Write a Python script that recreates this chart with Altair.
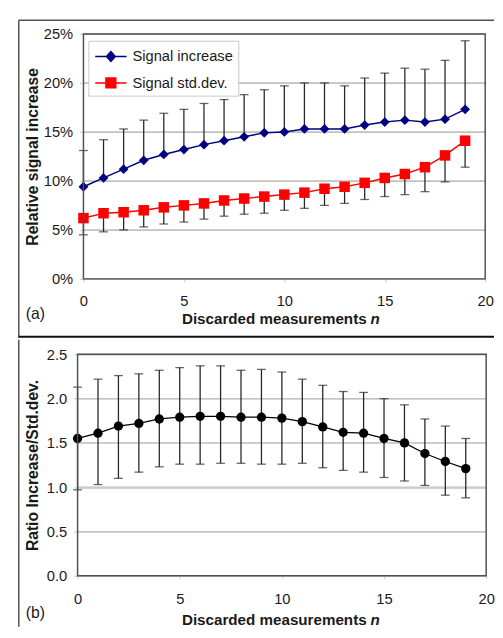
import altair as alt
import pandas as pd

# ---------------- data ----------------
n = list(range(20))
signal_increase = [9.4, 10.3, 11.2, 12.1, 12.7, 13.2, 13.7, 14.1, 14.5, 14.9,
                   15.0, 15.3, 15.3, 15.3, 15.7, 16.0, 16.2, 16.0, 16.3, 17.3]
increase_upper = [13.1, 14.2, 15.3, 16.2, 16.9, 17.3, 17.9, 18.3, 18.8, 19.3,
                  19.7, 20.0, 20.0, 19.7, 20.5, 21.0, 21.5, 21.4, 22.3, 24.3]
signal_std = [6.2, 6.7, 6.8, 7.0, 7.3, 7.5, 7.7, 8.0, 8.2, 8.4,
              8.6, 8.8, 9.2, 9.4, 9.8, 10.3, 10.7, 11.4, 12.6, 14.1]
std_lower = [4.5, 4.8, 5.0, 5.3, 5.6, 5.8, 6.1, 6.4, 6.6, 6.7,
             7.0, 7.2, 7.5, 7.7, 8.1, 8.4, 8.6, 8.9, 9.9, 11.4]

ratio = [1.55, 1.61, 1.69, 1.72, 1.77, 1.79, 1.80, 1.80, 1.79, 1.79,
         1.78, 1.74, 1.68, 1.62, 1.61, 1.55, 1.50, 1.38, 1.29, 1.21]
ratio_upper = [2.13, 2.22, 2.26, 2.28, 2.32, 2.35, 2.37, 2.37, 2.32, 2.33,
               2.30, 2.22, 2.15, 2.08, 2.07, 2.00, 1.93, 1.77, 1.69, 1.55]
ratio_lower = [0.97, 1.03, 1.10, 1.17, 1.23, 1.26, 1.26, 1.27, 1.27, 1.26,
               1.26, 1.27, 1.22, 1.19, 1.17, 1.11, 1.07, 1.02, 0.91, 0.88]

series_names = ["Signal increase", "Signal std.dev."]
series_colors = ["#000080", "#ff0000"]
x_ticks = [0, 5, 10, 15, 20]
top_ticks = [0, 0.05, 0.10, 0.15, 0.20, 0.25]
bottom_ticks = [0, 0.5, 1.0, 1.5, 2.0, 2.5]
x_title = "Discarded measurements"
x_title_var = "n"
top_ytitle = "Relative signal increase"
bottom_ytitle = "Ratio Increase/Std.dev."
panel_labels = ["(a)", "(b)"]

# ---------------- style ----------------
FONT = "Liberation Sans"
TXT = "#1a1a1a"
GRID = "#c4c4bc"
FRAME = "#505050"
ERR = "#262626"

W1, H1 = 410, 250
W2, H2 = 411, 226

top_df = pd.DataFrame({
    "n": n,
    "inc": [v / 100 for v in signal_increase],
    "inc_hi": [v / 100 for v in increase_upper],
    "std": [v / 100 for v in signal_std],
    "std_lo": [v / 100 for v in std_lower],
})
bot_df = pd.DataFrame({"n": n, "ratio": ratio, "hi": ratio_upper, "lo": ratio_lower})
one = pd.DataFrame({"k": [0]})


def rule(x, y, x2=None, y2=None, color=FRAME, width=1.5):
    enc = {"x": alt.value(x), "y": alt.value(y)}
    if x2 is not None:
        enc["x2"] = alt.value(x2)
    if y2 is not None:
        enc["y2"] = alt.value(y2)
    return alt.Chart(one).mark_rule(color=color, strokeWidth=width).encode(**enc)


def text(t, x, y, size, weight="normal", style="normal", align="center"):
    return alt.Chart(one).mark_text(
        text=t, font=FONT, fontSize=size, fontWeight=weight, fontStyle=style,
        align=align, baseline="middle", color=TXT
    ).encode(x=alt.value(x), y=alt.value(y))


def plot_frame(x0, x1, h):
    return alt.Chart(one).mark_rect(filled=False, stroke=FRAME, strokeWidth=1.5).encode(
        x=alt.value(x0), x2=alt.value(x1), y=alt.value(0), y2=alt.value(h))


# ---------------- top panel ----------------
xs_top = alt.Scale(domain=[0, 20], nice=False)
ys_top = alt.Scale(domain=[0, 0.25], nice=False)

x_axis_top = alt.Axis(values=x_ticks, title=None, grid=False, domain=False, labelFlush=False,
                      tickSize=3, tickColor="#c8c8c8", labelPadding=12)
y_axis_top = alt.Axis(values=top_ticks, format=".0%", title=top_ytitle, grid=True,
                      gridColor=GRID, gridWidth=1.2, gridOpacity=1,
                      domain=False, labelFlush=False, tickSize=4, tickColor="#c8c8c8",
                      labelPadding=7, titleX=-52, titleY=H1 / 2, titleBaseline="middle",
                      titleFontSize=16)

base_top = alt.Chart(top_df)
xt = alt.X("n:Q", scale=xs_top, axis=x_axis_top)


def yt(f):
    return alt.Y(f, scale=ys_top, axis=y_axis_top)


grid_top = alt.Chart(pd.DataFrame({"g": top_ticks})).mark_rule(
    stroke=GRID, strokeWidth=1.2, opacity=1).encode(y=yt("g:Q"))

inc_err = base_top.mark_rule(color=ERR, strokeWidth=1.3).encode(
    x=xt, y=yt("inc:Q"), y2="inc_hi:Q")
inc_cap = base_top.mark_tick(orient="horizontal", color=ERR, size=9, thickness=1.3).encode(
    x=xt, y=yt("inc_hi:Q"))
std_err = base_top.mark_rule(color=ERR, strokeWidth=1.3).encode(
    x=xt, y=yt("std_lo:Q"), y2="std:Q")
std_cap = base_top.mark_tick(orient="horizontal", color=ERR, size=9, thickness=1.3).encode(
    x=xt, y=yt("std_lo:Q"))

inc_line = base_top.mark_line(color=series_colors[0], strokeWidth=1.5).encode(
    x=xt, y=yt("inc:Q"))
std_line = base_top.mark_line(color=series_colors[1], strokeWidth=1.5).encode(
    x=xt, y=yt("std:Q"))
inc_pts = base_top.mark_point(shape="diamond", filled=True, size=100, opacity=1,
                              color=series_colors[0]).encode(x=xt, y=yt("inc:Q"))
std_pts = base_top.mark_point(shape="square", filled=True, size=115, opacity=1,
                              color=series_colors[1]).encode(x=xt, y=yt("std:Q"))

legend_paths = [
    "M-1.6,0H1.6M0,-0.5L0.45,0L0,0.5L-0.45,0Z",
    "M-1.6,0H1.6M-0.5,-0.5H0.5V0.5H-0.5Z",
]
leg = alt.Legend(title=None, orient="none", legendX=5, legendY=7, padding=5,
                 strokeColor="#c8c8c8", fillColor="white", labelFont=FONT,
                 labelFontSize=15, labelColor=TXT, symbolSize=400,
                 symbolStrokeWidth=1.5, symbolOffset=7, labelOffset=11, rowPadding=8)
legend_layer = alt.Chart(pd.DataFrame({"series": series_names})).transform_filter(
    "false").mark_point(filled=True, size=400, strokeWidth=1.5, opacity=1).encode(
    fill=alt.Fill("series:N", scale=alt.Scale(domain=series_names, range=series_colors), legend=leg),
    stroke=alt.Stroke("series:N", scale=alt.Scale(domain=series_names, range=series_colors), legend=leg),
    shape=alt.Shape("series:N", scale=alt.Scale(domain=series_names, range=legend_paths), legend=leg),
)

top = alt.layer(
    grid_top,
    inc_err, inc_cap, std_err, std_cap,
    inc_line, std_line, inc_pts, std_pts,
    plot_frame(0, W1, H1),
    legend_layer,
    text(panel_labels[0], -49, 286, 16),
    text(x_title, 289, 291, 15.5, weight="bold", align="right"),
    text(x_title_var, 293, 291, 15.5, weight="bold", style="italic", align="left"),
    rule(-66, -14, y2=310),
    rule(-66, -14, x2=419),
    rule(-66, 309, x2=419, color="#111111", width=2),
).properties(width=W1, height=H1)

# ---------------- bottom panel ----------------
xs_bot = alt.Scale(domain=[0, 20], nice=False, range=[-6, W2])
ys_bot = alt.Scale(domain=[0, 2.5], nice=False)

x_axis_bot = alt.Axis(values=x_ticks, title=None, grid=False, domain=False, labelFlush=False,
                      tickSize=3, tickColor="#c8c8c8", labelPadding=13)
y_axis_bot = alt.Axis(values=bottom_ticks, format=".1f", title=bottom_ytitle, grid=True,
                      gridColor=GRID, gridWidth=1.2, gridOpacity=1,
                      domain=False, labelFlush=False, tickSize=4, tickColor="#c8c8c8",
                      labelPadding=7, offset=6, titleX=-46, titleY=H2 / 2,
                      titleBaseline="middle", titleFontSize=16)

base_bot = alt.Chart(bot_df)
xb = alt.X("n:Q", scale=xs_bot, axis=x_axis_bot)


def yb(f):
    return alt.Y(f, scale=ys_bot, axis=y_axis_bot)


grid_bot = alt.Chart(pd.DataFrame({"g": bottom_ticks})).mark_rule(
    stroke=GRID, strokeWidth=1.2, opacity=1).encode(
    y=yb("g:Q"), x=alt.value(-6), x2=alt.value(W2))

r_err = base_bot.mark_rule(color=ERR, strokeWidth=1.3).encode(
    x=xb, y=yb("lo:Q"), y2="hi:Q")
r_cap_hi = base_bot.mark_tick(orient="horizontal", color=ERR, size=9, thickness=1.3).encode(
    x=xb, y=yb("hi:Q"))
r_cap_lo = base_bot.mark_tick(orient="horizontal", color=ERR, size=9, thickness=1.3).encode(
    x=xb, y=yb("lo:Q"))
r_line = base_bot.mark_line(color="#000000", strokeWidth=1.3).encode(
    x=xb, y=yb("ratio:Q"))
r_pts = base_bot.mark_point(shape="circle", filled=True, size=90, opacity=1,
                            color="#000000").encode(x=xb, y=yb("ratio:Q"))

bottom = alt.layer(
    grid_bot,
    r_err, r_cap_hi, r_cap_lo, r_line, r_pts,
    plot_frame(-6, W2, H2),
    text(panel_labels[1], -49, 264, 16),
    text(x_title, 289, 271, 15.5, weight="bold", align="right"),
    text(x_title_var, 293, 271, 15.5, weight="bold", style="italic", align="left"),
    rule(-66, -15, y2=278),
).properties(width=W2, height=H2)

chart = alt.vconcat(top, bottom, spacing=0).properties(
    padding={"left": 10, "top": 5, "right": 0, "bottom": 0},
    background="white",
).configure_view(strokeWidth=0).configure_axis(
    labelFont=FONT, labelFontSize=15, labelColor=TXT,
    titleFont=FONT, titleFontWeight="bold", titleColor=TXT,
)

chart.save("out.html", embed_options={"renderer": "svg", "actions": False})
